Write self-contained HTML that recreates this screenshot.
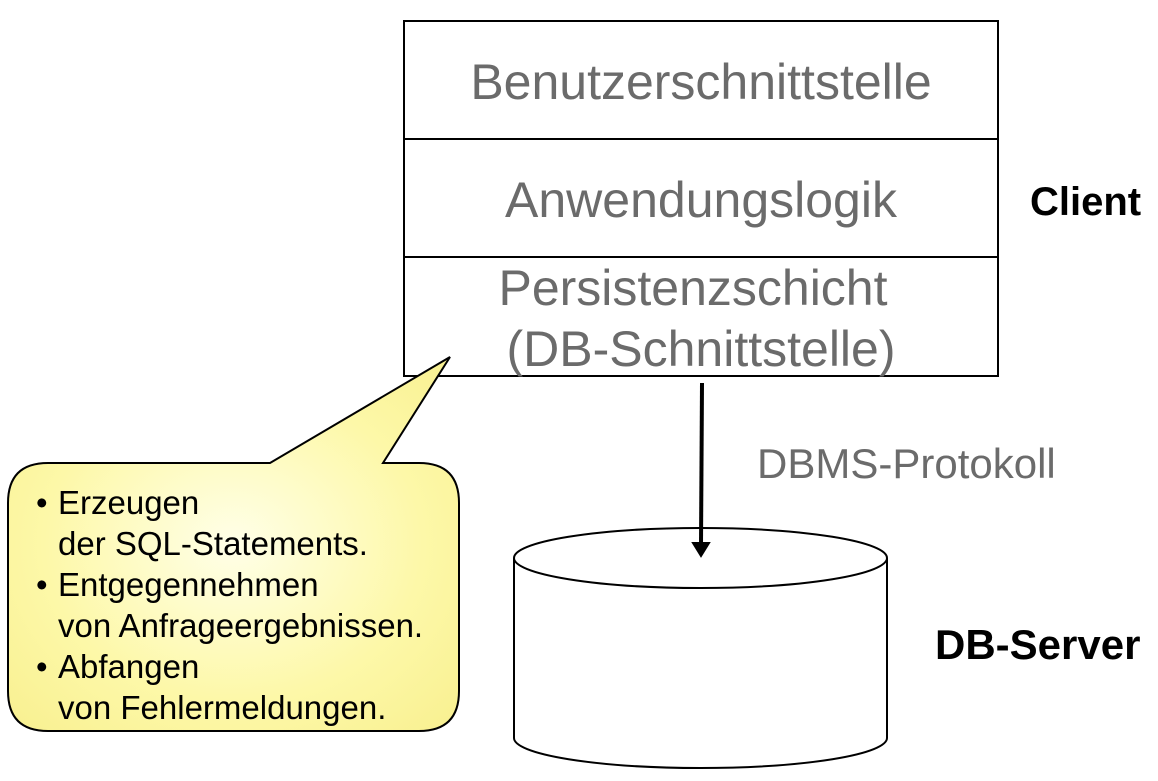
<!DOCTYPE html>
<html><head><meta charset="utf-8"><style>
body{margin:0;background:#fff;width:1158px;height:776px;overflow:hidden}
svg text{font-family:"Liberation Sans",Arial,sans-serif}
</style></head><body>
<svg width="1158" height="776" viewBox="0 0 1158 776" xmlns="http://www.w3.org/2000/svg">
<defs>
<radialGradient id="g" cx="0.5" cy="0.5" r="0.7">
<stop offset="0" stop-color="#ffffe8"/>
<stop offset="0.6" stop-color="#fdf8a8"/>
<stop offset="1" stop-color="#f8f090"/>
</radialGradient>
</defs>
<rect x="404" y="21" width="594" height="355" fill="#fff" stroke="#000" stroke-width="2"/>
<line x1="404" y1="139" x2="998" y2="139" stroke="#000" stroke-width="2"/>
<line x1="404" y1="257" x2="998" y2="257" stroke="#000" stroke-width="2"/>
<g fill="#6b6b6b" font-size="50" text-anchor="middle">
<text x="701" y="99">Benutzerschnittstelle</text>
<text x="701" y="217">Anwendungslogik</text>
<text x="693" y="305">Persistenzschicht</text>
<text x="701" y="366">(DB-Schnittstelle)</text>
</g>
<text x="1030" y="215" font-size="40" font-weight="bold">Client</text>
<text x="935" y="659" font-size="42" font-weight="bold">DB-Server</text>
<text x="757" y="478" font-size="42" fill="#6b6b6b">DBMS-Protokoll</text>
<path d="M48,463 L270,463 L450,357 L383,463 L419,463 Q459,463 459,503 L459,691 Q459,731 419,731 L48,731 Q8,731 8,691 L8,503 Q8,463 48,463 Z" fill="url(#g)" stroke="#000" stroke-width="2"/>
<g font-size="33" fill="#000">
<text x="36" y="514">•</text><text x="58" y="514">Erzeugen</text>
<text x="58" y="555">der SQL-Statements.</text>
<text x="36" y="596">•</text><text x="58" y="596">Entgegennehmen</text>
<text x="58" y="637">von Anfrageergebnissen.</text>
<text x="36" y="678">•</text><text x="58" y="678">Abfangen</text>
<text x="58" y="719">von Fehlermeldungen.</text>
</g>
<path d="M514,558 L514,738 A186.5,30 0 0 0 887,738 L887,558" fill="#fff" stroke="#000" stroke-width="2"/>
<ellipse cx="700.5" cy="558" rx="186.5" ry="30" fill="#fff" stroke="#000" stroke-width="2"/>
<line x1="702" y1="383" x2="701" y2="545" stroke="#000" stroke-width="4"/>
<path d="M693,543 L701,556 L709,543 Z" fill="#000" stroke="#000" stroke-width="2"/>
</svg>
</body></html>
